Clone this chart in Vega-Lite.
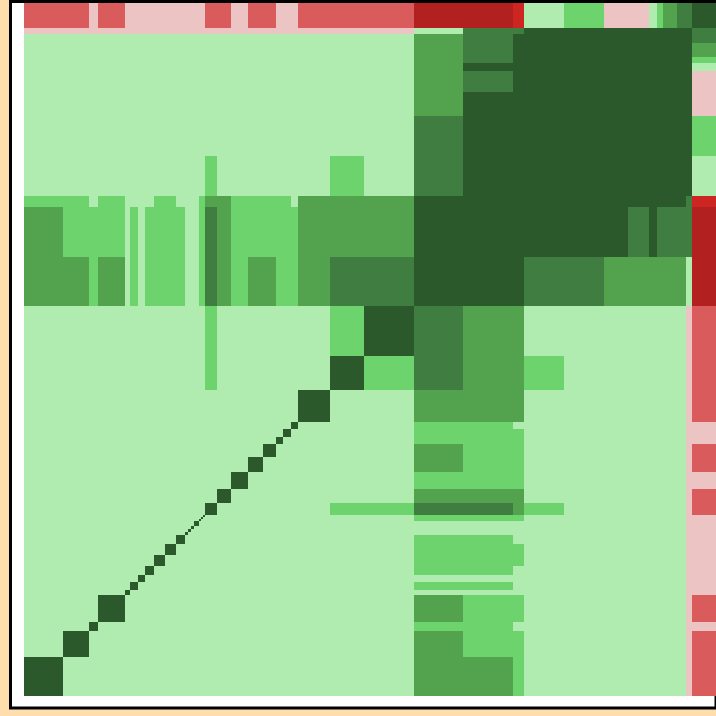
{
  "$schema": "https://vega.github.io/schema/vega-lite/v6.json",
  "autosize": {"type": "none"},
  "padding": {"left": 10.5, "top": 1.5, "right": 0, "bottom": 8},
  "width": 705.5,
  "height": 706.5,
  "background": "#ffdead",
  "config": {"view": {"fill": "white", "stroke": "black", "strokeWidth": 3}},
  "data": {"values": [
    {"x": 0, "x2": 692, "y": 0, "y2": 693, "c": "g0"},
    {"x": 0, "x2": 390, "y": 662, "y2": 693, "c": "r0"},
    {"x": 662, "x2": 692, "y": 0, "y2": 390, "c": "r0"},
    {"x": 0, "x2": 65, "y": 668, "y2": 693, "c": "r1"},
    {"x": 74, "x2": 101, "y": 668, "y2": 693, "c": "r1"},
    {"x": 181, "x2": 207, "y": 668, "y2": 693, "c": "r1"},
    {"x": 224, "x2": 252, "y": 668, "y2": 693, "c": "r1"},
    {"x": 274, "x2": 390, "y": 668, "y2": 693, "c": "r1"},
    {"x": 668, "x2": 692, "y": 0, "y2": 65, "c": "r1"},
    {"x": 668, "x2": 692, "y": 74, "y2": 101, "c": "r1"},
    {"x": 668, "x2": 692, "y": 181, "y2": 207, "c": "r1"},
    {"x": 668, "x2": 692, "y": 224, "y2": 252, "c": "r1"},
    {"x": 668, "x2": 692, "y": 274, "y2": 390, "c": "r1"},
    {"x": 390, "x2": 489, "y": 668, "y2": 693, "c": "r2"},
    {"x": 668, "x2": 692, "y": 390, "y2": 489, "c": "r2"},
    {"x": 489, "x2": 500, "y": 668, "y2": 693, "c": "r3"},
    {"x": 668, "x2": 692, "y": 489, "y2": 500, "c": "r3"},
    {"x": 540, "x2": 580, "y": 668, "y2": 693, "c": "g1"},
    {"x": 580, "x2": 625, "y": 668, "y2": 693, "c": "r0"},
    {"x": 633, "x2": 639, "y": 668, "y2": 693, "c": "g1"},
    {"x": 639, "x2": 653, "y": 668, "y2": 693, "c": "g2"},
    {"x": 653, "x2": 668, "y": 668, "y2": 693, "c": "g3"},
    {"x": 668, "x2": 692, "y": 540, "y2": 580, "c": "g1"},
    {"x": 668, "x2": 692, "y": 580, "y2": 625, "c": "r0"},
    {"x": 668, "x2": 692, "y": 633, "y2": 639, "c": "g1"},
    {"x": 668, "x2": 692, "y": 639, "y2": 653, "c": "g2"},
    {"x": 668, "x2": 692, "y": 653, "y2": 668, "c": "g3"},
    {"x": 668, "x2": 692, "y": 668, "y2": 693, "c": "g4"},
    {"x": 390, "x2": 668, "y": 390, "y2": 668, "c": "g4"},
    {"x": 500, "x2": 580, "y": 390, "y2": 439, "c": "g3"},
    {"x": 580, "x2": 662, "y": 390, "y2": 439, "c": "g2"},
    {"x": 662, "x2": 668, "y": 390, "y2": 439, "c": "g0"},
    {"x": 390, "x2": 439, "y": 500, "y2": 580, "c": "g3"},
    {"x": 390, "x2": 439, "y": 580, "y2": 662, "c": "g2"},
    {"x": 390, "x2": 439, "y": 662, "y2": 668, "c": "g0"},
    {"x": 604, "x2": 625, "y": 439, "y2": 489, "c": "g3"},
    {"x": 633, "x2": 668, "y": 439, "y2": 489, "c": "g3"},
    {"x": 439, "x2": 489, "y": 604, "y2": 625, "c": "g3"},
    {"x": 439, "x2": 489, "y": 633, "y2": 668, "c": "g3"},
    {"x": 662, "x2": 668, "y": 489, "y2": 500, "c": "g3"},
    {"x": 489, "x2": 500, "y": 662, "y2": 668, "c": "g3"},
    {"x": 0, "x2": 65, "y": 489, "y2": 500, "c": "g1"},
    {"x": 74, "x2": 101, "y": 489, "y2": 500, "c": "g1"},
    {"x": 130, "x2": 152, "y": 489, "y2": 500, "c": "g1"},
    {"x": 175, "x2": 181, "y": 489, "y2": 500, "c": "g1"},
    {"x": 181, "x2": 207, "y": 489, "y2": 500, "c": "g2"},
    {"x": 207, "x2": 267, "y": 489, "y2": 500, "c": "g1"},
    {"x": 274, "x2": 390, "y": 489, "y2": 500, "c": "g2"},
    {"x": 0, "x2": 39, "y": 439, "y2": 489, "c": "g2"},
    {"x": 39, "x2": 101, "y": 439, "y2": 489, "c": "g1"},
    {"x": 106, "x2": 114, "y": 439, "y2": 489, "c": "g1"},
    {"x": 121, "x2": 161, "y": 439, "y2": 489, "c": "g1"},
    {"x": 175, "x2": 181, "y": 439, "y2": 489, "c": "g1"},
    {"x": 181, "x2": 193, "y": 439, "y2": 489, "c": "g3"},
    {"x": 193, "x2": 207, "y": 439, "y2": 489, "c": "g2"},
    {"x": 207, "x2": 274, "y": 439, "y2": 489, "c": "g1"},
    {"x": 274, "x2": 390, "y": 439, "y2": 489, "c": "g2"},
    {"x": 0, "x2": 65, "y": 390, "y2": 439, "c": "g2"},
    {"x": 65, "x2": 74, "y": 390, "y2": 439, "c": "g1"},
    {"x": 74, "x2": 101, "y": 390, "y2": 439, "c": "g2"},
    {"x": 106, "x2": 114, "y": 390, "y2": 439, "c": "g1"},
    {"x": 121, "x2": 161, "y": 390, "y2": 439, "c": "g1"},
    {"x": 175, "x2": 181, "y": 390, "y2": 439, "c": "g1"},
    {"x": 181, "x2": 193, "y": 390, "y2": 439, "c": "g3"},
    {"x": 193, "x2": 207, "y": 390, "y2": 439, "c": "g2"},
    {"x": 207, "x2": 224, "y": 390, "y2": 439, "c": "g1"},
    {"x": 224, "x2": 252, "y": 390, "y2": 439, "c": "g2"},
    {"x": 252, "x2": 274, "y": 390, "y2": 439, "c": "g1"},
    {"x": 274, "x2": 306, "y": 390, "y2": 439, "c": "g2"},
    {"x": 306, "x2": 390, "y": 390, "y2": 439, "c": "g3"},
    {"x": 489, "x2": 500, "y": 0, "y2": 65, "c": "g1"},
    {"x": 489, "x2": 500, "y": 74, "y2": 101, "c": "g1"},
    {"x": 489, "x2": 500, "y": 130, "y2": 152, "c": "g1"},
    {"x": 489, "x2": 500, "y": 175, "y2": 181, "c": "g1"},
    {"x": 489, "x2": 500, "y": 181, "y2": 207, "c": "g2"},
    {"x": 489, "x2": 500, "y": 207, "y2": 267, "c": "g1"},
    {"x": 489, "x2": 500, "y": 274, "y2": 390, "c": "g2"},
    {"x": 439, "x2": 489, "y": 0, "y2": 39, "c": "g2"},
    {"x": 439, "x2": 489, "y": 39, "y2": 101, "c": "g1"},
    {"x": 439, "x2": 489, "y": 106, "y2": 114, "c": "g1"},
    {"x": 439, "x2": 489, "y": 121, "y2": 161, "c": "g1"},
    {"x": 439, "x2": 489, "y": 175, "y2": 181, "c": "g1"},
    {"x": 439, "x2": 489, "y": 181, "y2": 193, "c": "g3"},
    {"x": 439, "x2": 489, "y": 193, "y2": 207, "c": "g2"},
    {"x": 439, "x2": 489, "y": 207, "y2": 274, "c": "g1"},
    {"x": 439, "x2": 489, "y": 274, "y2": 390, "c": "g2"},
    {"x": 390, "x2": 439, "y": 0, "y2": 65, "c": "g2"},
    {"x": 390, "x2": 439, "y": 65, "y2": 74, "c": "g1"},
    {"x": 390, "x2": 439, "y": 74, "y2": 101, "c": "g2"},
    {"x": 390, "x2": 439, "y": 106, "y2": 114, "c": "g1"},
    {"x": 390, "x2": 439, "y": 121, "y2": 161, "c": "g1"},
    {"x": 390, "x2": 439, "y": 175, "y2": 181, "c": "g1"},
    {"x": 390, "x2": 439, "y": 181, "y2": 193, "c": "g3"},
    {"x": 390, "x2": 439, "y": 193, "y2": 207, "c": "g2"},
    {"x": 390, "x2": 439, "y": 207, "y2": 224, "c": "g1"},
    {"x": 390, "x2": 439, "y": 224, "y2": 252, "c": "g2"},
    {"x": 390, "x2": 439, "y": 252, "y2": 274, "c": "g1"},
    {"x": 390, "x2": 439, "y": 274, "y2": 306, "c": "g2"},
    {"x": 390, "x2": 439, "y": 306, "y2": 390, "c": "g3"},
    {"x": 181, "x2": 193, "y": 306, "y2": 390, "c": "g1"},
    {"x": 306, "x2": 390, "y": 181, "y2": 193, "c": "g1"},
    {"x": 500, "x2": 540, "y": 181, "y2": 193, "c": "g1"},
    {"x": 181, "x2": 193, "y": 500, "y2": 540, "c": "g1"},
    {"x": 306, "x2": 340, "y": 500, "y2": 540, "c": "g1"},
    {"x": 500, "x2": 540, "y": 306, "y2": 340, "c": "g1"},
    {"x": 306, "x2": 340, "y": 340, "y2": 390, "c": "g1"},
    {"x": 340, "x2": 390, "y": 306, "y2": 340, "c": "g1"},
    {"x": 0, "x2": 39, "y": 0, "y2": 39, "c": "g4"},
    {"x": 39, "x2": 65, "y": 39, "y2": 65, "c": "g4"},
    {"x": 65, "x2": 74, "y": 65, "y2": 74, "c": "g4"},
    {"x": 74, "x2": 101, "y": 74, "y2": 101, "c": "g4"},
    {"x": 101, "x2": 106, "y": 101, "y2": 106, "c": "g4"},
    {"x": 106, "x2": 114, "y": 106, "y2": 114, "c": "g4"},
    {"x": 114, "x2": 121, "y": 114, "y2": 121, "c": "g4"},
    {"x": 121, "x2": 130, "y": 121, "y2": 130, "c": "g4"},
    {"x": 130, "x2": 141, "y": 130, "y2": 141, "c": "g4"},
    {"x": 141, "x2": 152, "y": 141, "y2": 152, "c": "g4"},
    {"x": 152, "x2": 161, "y": 152, "y2": 161, "c": "g4"},
    {"x": 161, "x2": 164, "y": 161, "y2": 164, "c": "g4"},
    {"x": 164, "x2": 167, "y": 164, "y2": 167, "c": "g4"},
    {"x": 167, "x2": 170, "y": 167, "y2": 170, "c": "g4"},
    {"x": 170, "x2": 175, "y": 170, "y2": 175, "c": "g4"},
    {"x": 175, "x2": 177, "y": 175, "y2": 177, "c": "g4"},
    {"x": 177, "x2": 179, "y": 177, "y2": 179, "c": "g4"},
    {"x": 179, "x2": 181, "y": 179, "y2": 181, "c": "g4"},
    {"x": 181, "x2": 193, "y": 181, "y2": 193, "c": "g4"},
    {"x": 193, "x2": 207, "y": 193, "y2": 207, "c": "g4"},
    {"x": 207, "x2": 224, "y": 207, "y2": 224, "c": "g4"},
    {"x": 224, "x2": 239, "y": 224, "y2": 239, "c": "g4"},
    {"x": 239, "x2": 252, "y": 239, "y2": 252, "c": "g4"},
    {"x": 252, "x2": 259, "y": 252, "y2": 259, "c": "g4"},
    {"x": 259, "x2": 267, "y": 259, "y2": 267, "c": "g4"},
    {"x": 267, "x2": 274, "y": 267, "y2": 274, "c": "g4"},
    {"x": 274, "x2": 306, "y": 274, "y2": 306, "c": "g4"},
    {"x": 306, "x2": 340, "y": 306, "y2": 340, "c": "g4"},
    {"x": 340, "x2": 390, "y": 340, "y2": 390, "c": "g4"}
  ]},
  "mark": {"type": "rect"},
  "encoding": {
    "x": {"field": "x", "type": "quantitative", "scale": {"domain": [-13.5, 692], "nice": false, "zero": false}, "axis": null},
    "x2": {"field": "x2"},
    "y": {"field": "y", "type": "quantitative", "scale": {"domain": [-12, 694.5], "nice": false, "zero": false}, "axis": null},
    "y2": {"field": "y2"},
    "color": {"field": "c", "type": "nominal", "legend": null,
      "scale": {"domain": ["g0", "g1", "g2", "g3", "g4", "r0", "r1", "r2", "r3"],
                "range": ["#b0ecb0", "#6dd36d", "#52a24e", "#3f7d40", "#2c592c", "#ecc4c4", "#d95b5b", "#b22020", "#cc2522"]}}
  }
}
